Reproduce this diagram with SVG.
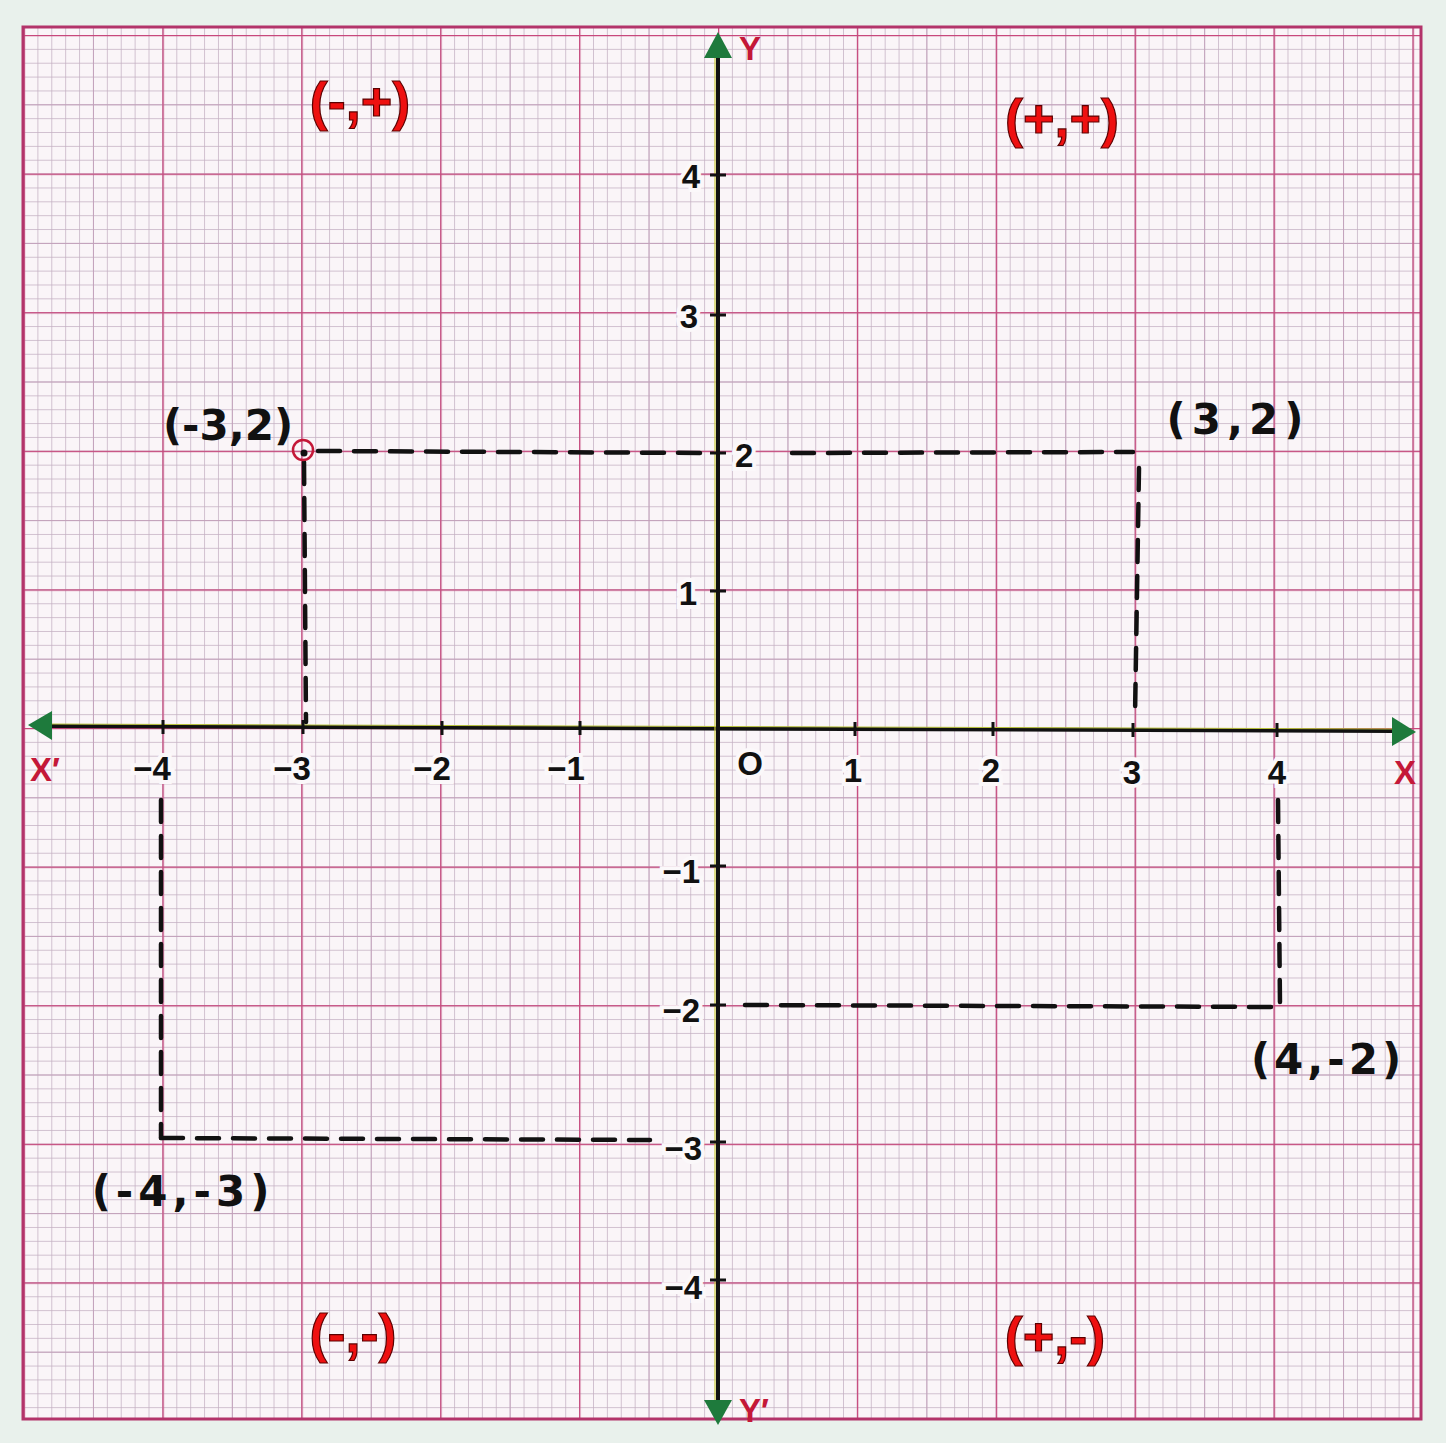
<svg xmlns="http://www.w3.org/2000/svg" width="1446" height="1443" viewBox="0 0 1446 1443">
<style>
.tick{font-family:"Liberation Sans",Arial,sans-serif;font-weight:bold;font-size:33px;fill:#111;stroke:#fbf8fa;stroke-width:8px;paint-order:stroke;}
.axl{font-family:"Liberation Sans",Arial,sans-serif;font-weight:bold;font-size:33px;fill:#c41838;}
.quad{font-family:"Liberation Sans",Arial,sans-serif;font-weight:bold;font-size:54px;fill:#ee1010;stroke:#5a0000;stroke-width:1.2px;}
.hand{font-family:"DejaVu Sans",sans-serif;font-weight:bold;font-size:42px;fill:#111;}
.dash{fill:none;stroke:#111;stroke-width:4.5;stroke-dasharray:22 14;stroke-linecap:round;}
.axis{stroke:#111;stroke-width:4;}
</style>
<defs>
<pattern id="minor" patternUnits="userSpaceOnUse" x="718" y="728" width="13.89" height="13.86">
<path d="M 0 0 L 13.89 0 M 0 0 L 0 13.86" stroke="#c4b0c2" stroke-width="1.5" fill="none"/>
</pattern>
<pattern id="mid" patternUnits="userSpaceOnUse" x="718" y="728" width="69.45" height="69.3">
<path d="M 0 0 L 69.45 0 M 0 0 L 0 69.3" stroke="#c2a0ba" stroke-width="1.8" fill="none"/>
</pattern>
<pattern id="maj" patternUnits="userSpaceOnUse" x="718" y="728" width="138.9" height="138.6">
<path d="M 0 0 L 138.9 0 M 0 0 L 0 138.6" stroke="#c8487c" stroke-width="2.6" fill="none"/>
</pattern>
</defs>
<rect x="0" y="0" width="1446" height="1443" fill="#e9f1ec"/>
<g id="paper">
<rect x="23" y="27" width="1398" height="1392" fill="#faf5f8"/>
<rect x="23" y="27" width="1398" height="1392" fill="url(#minor)"/>
<rect x="23" y="27" width="1398" height="1392" fill="url(#mid)"/>
<rect x="23" y="27" width="1398" height="1392" fill="url(#maj)"/>
<rect x="23" y="27" width="1398" height="1392" fill="none" stroke="#b3346a" stroke-width="3"/>
</g>
<g id="connectors">
<g id="axes">
<line class="axis" x1="46" y1="726" x2="1396" y2="731"/>
<line x1="46" y1="724" x2="1396" y2="729" stroke="#b8c23a" stroke-width="1"/>
<line class="axis" x1="718" y1="55" x2="718" y2="1405"/>
<line x1="715" y1="55" x2="715" y2="1405" stroke="#c8c83a" stroke-width="1.2"/>
<polygon points="28,725 52,711 52,740" fill="#1e7a3c"/>
<polygon points="1416,732 1392,717 1392,746" fill="#1e7a3c"/>
<polygon points="718,32 704,58 732,58" fill="#1e7a3c"/>
<polygon points="718,1425 704,1400 732,1400" fill="#1e7a3c"/>
<g stroke="#111" stroke-width="3">
<line x1="163" y1="720" x2="163" y2="734"/><line x1="303" y1="720" x2="303" y2="734"/>
<line x1="442" y1="721" x2="442" y2="735"/><line x1="580" y1="721" x2="580" y2="735"/>
<line x1="855" y1="722" x2="855" y2="736"/><line x1="993" y1="722" x2="993" y2="736"/>
<line x1="1133" y1="723" x2="1133" y2="737"/><line x1="1277" y1="723" x2="1277" y2="737"/>
<line x1="710" y1="175" x2="726" y2="175"/><line x1="710" y1="315" x2="726" y2="315"/>
<line x1="710" y1="453" x2="726" y2="453"/><line x1="710" y1="591" x2="726" y2="591"/>
<line x1="710" y1="866" x2="726" y2="866"/><line x1="710" y1="1005" x2="726" y2="1005"/>
<line x1="710" y1="1142" x2="726" y2="1142"/><line x1="710" y1="1280" x2="726" y2="1280"/>
</g>
</g>
<g id="dashes">
<path class="dash" d="M 318 451 L 710 453"/>
<path class="dash" d="M 304 462 L 306 722"/>
<path class="dash" d="M 792 453 L 1133 452"/>
<path class="dash" d="M 1139 468 L 1135 716"/>
<path class="dash" d="M 1278 800 L 1280 1005"/>
<path class="dash" d="M 745 1005 L 1282 1007"/>
<path class="dash" d="M 161 800 L 161 1138"/>
<path class="dash" d="M 161 1138 L 650 1140"/>
</g>
</g>
<g id="point-m3-2">
<circle cx="303" cy="450" r="10" fill="none" stroke="#c41838" stroke-width="2.5"/>
<circle cx="304" cy="453" r="3.5" fill="#111"/>
<text class="hand" x="228" y="440" text-anchor="middle">(-3,2)</text>
</g>
<g id="point-3-2">
<text class="hand" x="1238" y="434" text-anchor="middle" letter-spacing="6">(3,2)</text>
</g>
<g id="point-4-m2">
<text class="hand" x="1328" y="1074" text-anchor="middle" letter-spacing="4">(4,-2)</text>
</g>
<g id="point-m4-m3">
<text class="hand" x="183" y="1206" text-anchor="middle" letter-spacing="5">(-4,-3)</text>
</g>
<g id="tick-labels">
<text class="tick" x="700" y="188" text-anchor="end">4</text>
<text class="tick" x="698" y="328" text-anchor="end">3</text>
<text class="tick" x="735" y="467">2</text>
<text class="tick" x="697" y="605" text-anchor="end">1</text>
<text class="tick" x="700" y="883" text-anchor="end">−1</text>
<text class="tick" x="700" y="1022" text-anchor="end">−2</text>
<text class="tick" x="702" y="1160" text-anchor="end">−3</text>
<text class="tick" x="702" y="1299" text-anchor="end">−4</text>
<text class="tick" x="152" y="780" text-anchor="middle">−4</text>
<text class="tick" x="292" y="780" text-anchor="middle">−3</text>
<text class="tick" x="432" y="780" text-anchor="middle">−2</text>
<text class="tick" x="566" y="780" text-anchor="middle">−1</text>
<text class="tick" x="750" y="775" text-anchor="middle">O</text>
<text class="tick" x="853" y="782" text-anchor="middle">1</text>
<text class="tick" x="991" y="782" text-anchor="middle">2</text>
<text class="tick" x="1132" y="784" text-anchor="middle">3</text>
<text class="tick" x="1277" y="784" text-anchor="middle">4</text>
</g>
<g id="axis-labels">
<text class="axl" x="750" y="60" text-anchor="middle">Y</text>
<text class="axl" x="754" y="1422" text-anchor="middle">Y′</text>
<text class="axl" x="45" y="781" text-anchor="middle">X′</text>
<text class="axl" x="1405" y="784" text-anchor="middle">X</text>
</g>
<g id="quadrant-labels">
<text class="quad" x="360" y="120" text-anchor="middle">(-,+)</text>
<text class="quad" x="1062" y="137" text-anchor="middle">(+,+)</text>
<text class="quad" x="353" y="1352" text-anchor="middle">(-,-)</text>
<text class="quad" x="1055" y="1355" text-anchor="middle">(+,-)</text>
</g>
</svg>
